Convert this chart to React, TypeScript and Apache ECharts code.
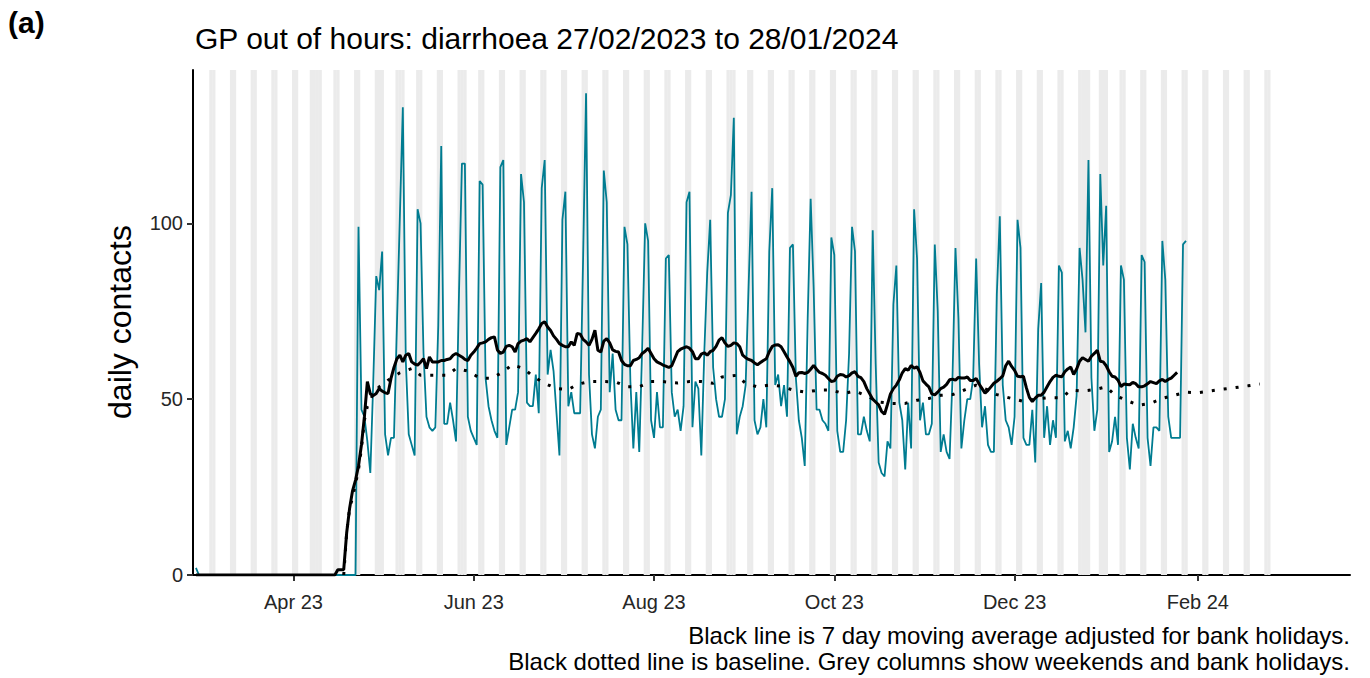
import React, { useEffect, useRef } from "react";
import * as echarts from "echarts";

const DAY = 86400000;
const FONT = "'Liberation Sans', Arial, Helvetica, sans-serif";

// Daily series start (Monday 27/02/2023); one value per day, rows are Mon..Sun weeks
const seriesStart = "2023-02-27";

const dailyContacts = [
  2, 0, 0, 0, 0, 0, 0,
  0, 0, 0, 0, 0, 0, 0,
  0, 0, 0, 0, 0, 0, 0,
  0, 0, 0, 0, 0, 0, 0,
  0, 0, 0, 0, 0, 0, 0,
  0, 0, 0, 0, 0, 0, 0,
  0, 0, 0, 0, 0, 0, 0,
  0, 0, 0, 0, 0, 0, 99,
  47, 45, 38, 29, 55, 85, 81,
  92, 40, 34, 39, 39, 71, 102,
  133, 61, 40, 37, 34, 104, 100,
  63, 45, 42, 41, 42, 71, 122,
  43, 43, 49, 44, 38, 80, 117,
  117, 45, 41, 39, 37, 112, 111,
  56, 48, 44, 41, 39, 116, 118,
  37, 42, 47, 47, 52, 114, 106,
  49, 48, 48, 57, 46, 110, 118,
  57, 64, 58, 46, 34, 101, 109,
  48, 52, 46, 46, 46, 90, 137,
  57, 40, 36, 45, 47, 115, 106,
  52, 63, 47, 44, 44, 99, 94,
  55, 36, 52, 35, 65, 100, 95,
  44, 39, 52, 42, 42, 90, 91,
  52, 45, 47, 41, 48, 106, 109,
  42, 55, 53, 34, 63, 86, 101,
  59, 50, 45, 45, 50, 103, 108,
  130, 40, 45, 48, 54, 82, 109,
  44, 40, 42, 50, 42, 92, 110,
  54, 57, 48, 54, 45, 93, 94,
  56, 44, 39, 31, 73, 107, 82,
  47, 47, 44, 43, 41, 96, 91,
  41, 35, 35, 44, 63, 99, 92,
  40, 40, 45, 41, 38, 98, 60,
  32, 29, 28, 38, 36, 77, 88,
  49, 44, 30, 49, 36, 104, 90,
  44, 49, 40, 40, 43, 94, 75,
  35, 40, 35, 33, 56, 93, 73,
  36, 44, 50, 50, 56, 90, 60,
  42, 48, 37, 35, 35, 80, 102,
  54, 44, 42, 37, 45, 101, 93,
  39, 37, 37, 47, 32, 70, 83,
  39, 48, 37, 44, 39, 88, 86,
  38, 41, 36, 42, 51, 93, 84,
  69, 118, 56, 41, 47, 114, 88,
  105, 35, 38, 45, 37, 88, 84,
  39, 30, 43, 39, 36, 91, 89,
  39, 31, 42, 42, 41, 95, 84,
  45, 39, 39, 39, 39, 94, 95,
];

// 7 day moving average (adjusted for bank holidays), same start date
const movingAverage = [
  0, 0, 0, 0, 0, 0, 0,
  0, 0, 0, 0, 0, 0, 0,
  0, 0, 0, 0, 0, 0, 0,
  0, 0, 0, 0, 0, 0, 0,
  0, 0, 0, 0, 0, 0, 0,
  0, 0, 0, 0, 0, 0, 0,
  0, 0, 0, 0, 0, 0, 1.5,
  1.5, 1.5, 12, 19, 24, 27, 31,
  37, 45, 55, 51.5, 51, 51.6, 53,
  52.3, 51.8, 51.6, 55.9, 59, 61.5, 62.5,
  60.6, 62.5, 63, 60.6, 60, 59.7, 60.5,
  61.5, 58.7, 62, 60.6, 60.6, 60.6, 61,
  61, 61.3, 61.5, 62.5, 63, 62.5, 62,
  61.3, 61, 62.5, 63.4, 64.5, 65.8, 66,
  66.3, 67, 67.5, 67.7, 64, 63, 63.4,
  65, 65.3, 64.9, 63.4, 65.8, 66.5, 66.8,
  67.2, 66.3, 67.5, 68.7, 70, 71.5, 72,
  70.5, 69.5, 68, 67, 65.8, 65.3, 64.9,
  64.9, 66.3, 65.3, 68.7, 68.5, 67, 66.3,
  65.3, 67, 69.6, 63.9, 63.4, 66.5, 67.2,
  66, 64, 63.6, 63.4, 61, 59.9, 59.5,
  59.5, 61, 61.3, 61.8, 63, 63.6, 64.5,
  63, 61.5, 60.6, 60.2, 59.7, 59.4, 59,
  59.5, 61.5, 63.5, 64.2, 64.6, 64.9, 64.5,
  63.5, 61.5, 61.5, 62.8, 63.2, 62.5, 63.5,
  63.9, 65, 66.8, 67.5, 66, 65, 65.3,
  66, 65.8, 64.9, 62.5, 61.8, 61.3, 61,
  60.3, 59.8, 60.4, 61, 61.5, 63.5, 65,
  65.4, 65.5, 64.9, 63.5, 62, 60.6, 59,
  56.5, 57.5, 57.6, 57.3, 57.6, 58.5, 59.6,
  58.5, 57.6, 57.3, 56.8, 55.9, 55, 55.2,
  56.5, 57, 56.9, 56.3, 56.7, 57.5, 57.8,
  56.5, 56.1, 55, 53, 51.5, 50, 49.2,
  48.4, 46.5, 45.7, 48.5, 51.5, 53, 54,
  55.5, 57.5, 58.7, 58.2, 59.6, 58.8, 59.2,
  57.6, 55.2, 54.3, 53.5, 51.5, 51.2, 52,
  53, 53.4, 54.2, 55.5, 55.7, 55.4, 56.2,
  56, 56, 56.3, 55.3, 55.3, 55.9, 54.3,
  53, 51.7, 52.5, 53.5, 54.5, 55.1, 55.8,
  56.6, 59.5, 60.8, 59.3, 58.2, 56.5, 56.4,
  56.5, 53.2, 50.5, 49.3, 50.3, 51.1, 51.1,
  52, 53.5, 55, 56.2, 56.8, 56.5, 56.4,
  57.8, 58.6, 59.1, 57, 58.6, 60.8, 61.8,
  61.3, 60.8, 62.2, 63, 63.9, 60.8, 60.6,
  59.5, 57.8, 56.5, 56.3, 55.4, 53.6, 54.3,
  54.2, 54.1, 54.8, 54.4, 53.5, 53.5, 53.8,
  54.4, 55, 54.7, 54.4, 55.2, 55.6, 55,
  55.6, 56, 56.8, 57.6,
];

// Baseline (dotted), read at roughly 4 day steps
const baselineDates = [
  "2023-04-18", "2023-04-19", "2023-04-20", "2023-04-21", "2023-04-22", "2023-04-23",
  "2023-04-24", "2023-04-25", "2023-04-26", "2023-04-28", "2023-04-30", "2023-05-03",
  "2023-05-07", "2023-05-11", "2023-05-14", "2023-05-19", "2023-05-23", "2023-05-26",
  "2023-05-30", "2023-06-03", "2023-06-07", "2023-06-11", "2023-06-14", "2023-06-18",
  "2023-06-21", "2023-06-25", "2023-06-29", "2023-07-03", "2023-07-06", "2023-07-10",
  "2023-07-15", "2023-07-19", "2023-07-23", "2023-07-27", "2023-07-31", "2023-08-04",
  "2023-08-09", "2023-08-13", "2023-08-17", "2023-08-21", "2023-08-24", "2023-08-29",
  "2023-09-01", "2023-09-05", "2023-09-09", "2023-09-13", "2023-09-17", "2023-09-21",
  "2023-09-26", "2023-09-30", "2023-10-04", "2023-10-08", "2023-10-12", "2023-10-16",
  "2023-10-20", "2023-10-25", "2023-10-29", "2023-11-02", "2023-11-06", "2023-11-10",
  "2023-11-14", "2023-11-18", "2023-11-22", "2023-11-25", "2023-11-30", "2023-12-04",
  "2023-12-08", "2023-12-12", "2023-12-17", "2023-12-20", "2023-12-24", "2023-12-28",
  "2024-01-01", "2024-01-04", "2024-01-08", "2024-01-12", "2024-01-16", "2024-01-20",
  "2024-01-24", "2024-01-28", "2024-02-01", "2024-02-05", "2024-02-09", "2024-02-13",
  "2024-02-18", "2024-02-22",
];
const baselineValues = [
  0, 12, 19, 22, 26, 30,
  36, 44, 48, 51.5, 53.5, 55.4,
  57.5, 58.7, 56.8, 56.8, 56.8, 58.7,
  58, 56, 55.9, 57.8, 59.8, 58.7,
  56.5, 54.5, 53, 52.7, 54.2, 55,
  55, 54.9, 53.5, 53.5, 55, 55,
  54.6, 55, 55, 54.5, 56.3, 56.8,
  54.5, 53.5, 54, 53.7, 52.6, 52,
  52.6, 52.6, 51.6, 52.3, 50.9, 49.2,
  48.8, 48.8, 49.7, 50.2, 51.1, 51.3,
  52.6, 54, 52.6, 51.3, 50.2, 49.4,
  50, 50.4, 50.4, 52.6, 52.3, 52.7,
  53.5, 51.1, 49.6, 48.3, 48.8, 50.2,
  51.1, 52, 51.8, 52.3, 52.8, 53.2,
  53.8, 54.3,
];

// Grey columns: weekends plus these bank holidays
const bankHolidays = [
  "2023-04-07", "2023-04-10", "2023-05-01", "2023-05-08", "2023-05-29",
  "2023-08-28", "2023-12-25", "2023-12-26", "2024-01-01",
];
const shadeStart = "2023-02-27";
const shadeEnd = "2024-02-25";

const xTickDates = ["2023-04-01", "2023-06-01", "2023-08-01", "2023-10-01", "2023-12-01", "2024-02-01"];
const xTickLabels = ["Apr 23", "Jun 23", "Aug 23", "Oct 23", "Dec 23", "Feb 24"];
const yTicks = [0, 50, 100];

const xMinDate = "2023-02-26";
const xMaxDate = "2024-03-23";
const Y_MAX = 143.6;

const titleText = "GP out of hours: diarrhoea 27/02/2023 to 28/01/2024";
const captionLines = [
  "Black line is 7 day moving average adjusted for bank holidays.",
  "Black dotted line is baseline. Grey columns show weekends and bank holidays.",
];

const toTs = (s: string) => {
  const [y, m, d] = s.split("-").map(Number);
  return Date.UTC(y, m - 1, d);
};

export default function App() {
  const ref = useRef<HTMLDivElement>(null);

  useEffect(() => {
    if (!ref.current) return;
    const chart = echarts.init(ref.current, undefined, { renderer: "svg" });

    const t0 = toTs(seriesStart);
    const tealData = dailyContacts.map((v, i) => [t0 + i * DAY, v]);
    const maData = movingAverage.map((v, i) => [t0 + i * DAY, v]);
    const baseData = baselineDates.map((d, i) => [toTs(d), baselineValues[i]]);

    const holidaySet = new Set(bankHolidays.map(toTs));
    const shadeDays: number[][] = [];
    for (let t = toTs(shadeStart); t <= toTs(shadeEnd); t += DAY) {
      const wd = new Date(t).getUTCDay();
      if (wd === 0 || wd === 6 || holidaySet.has(t)) shadeDays.push([t, Y_MAX]);
    }

    const xTickTs = xTickDates.map(toTs);

    chart.setOption({
      animation: false,
      grid: { left: 193, right: 20, top: 70, bottom: 103 },
      xAxis: {
        type: "value",
        min: toTs(xMinDate),
        max: toTs(xMaxDate) + DAY / 2,
        splitLine: { show: false },
        axisLine: { show: true, onZero: false, lineStyle: { color: "#000", width: 2 } },
        axisTick: {
          show: true,
          customValues: xTickTs,
          length: 6,
          lineStyle: { color: "#333", width: 2 },
        },
        axisLabel: {
          customValues: xTickTs,
          formatter: (v: number) => {
            const i = xTickTs.indexOf(v);
            return i >= 0 ? xTickLabels[i] : "";
          },
          fontSize: 20,
          color: "#262626",
          fontFamily: FONT,
          margin: 17,
        },
      },
      yAxis: {
        type: "value",
        min: 0,
        max: Y_MAX,
        splitLine: { show: false },
        axisLine: { show: true, onZero: false, lineStyle: { color: "#000", width: 2 } },
        axisTick: {
          show: true,
          customValues: yTicks,
          length: 6,
          lineStyle: { color: "#333", width: 2 },
        },
        axisLabel: {
          customValues: yTicks,
          fontSize: 20,
          color: "#262626",
          fontFamily: FONT,
          margin: 10,
        },
      },
      series: [
        {
          type: "custom",
          silent: true,
          clip: true,
          z: 1,
          encode: { x: 0, y: 1 },
          data: shadeDays,
          renderItem: (params: any, api: any) => {
            const t = api.value(0);
            const p0 = api.coord([t - DAY / 2, Y_MAX]);
            const p1 = api.coord([t + DAY / 2, 0]);
            return {
              type: "rect",
              shape: { x: p0[0], y: p0[1], width: p1[0] - p0[0] + 0.3, height: p1[1] - p0[1] },
              style: { fill: "#ebebeb" },
            };
          },
        },
        {
          type: "line",
          silent: true,
          z: 3,
          symbol: "none",
          showSymbol: false,
          data: tealData,
          lineStyle: { color: "#007C91", width: 1.8 },
        },
        {
          type: "line",
          silent: true,
          z: 4,
          symbol: "none",
          showSymbol: false,
          data: maData,
          lineStyle: { color: "#000", width: 3 },
        },
        {
          type: "line",
          silent: true,
          z: 5,
          symbol: "none",
          showSymbol: false,
          data: baseData,
          lineStyle: { color: "#000", width: 3, type: [3, 9] },
        },
      ],
      graphic: [
        {
          type: "text",
          x: 8,
          y: 22,
          style: { text: "(a)", font: `bold 30px ${FONT}`, fill: "#000", verticalAlign: "middle", align: "left" },
        },
        {
          type: "text",
          x: 195,
          y: 38,
          style: { text: titleText, font: `30px ${FONT}`, fill: "#000", verticalAlign: "middle", align: "left" },
        },
        {
          type: "text",
          x: 120,
          y: 322,
          rotation: Math.PI / 2,
          style: { text: "daily contacts", font: `32px ${FONT}`, fill: "#000", verticalAlign: "middle", align: "center" },
        },
        {
          type: "text",
          x: 1350,
          y: 635,
          style: { text: captionLines[0], font: `24px ${FONT}`, fill: "#000", verticalAlign: "middle", align: "right" },
        },
        {
          type: "text",
          x: 1350,
          y: 661,
          style: { text: captionLines[1], font: `24px ${FONT}`, fill: "#000", verticalAlign: "middle", align: "right" },
        },
      ],
    });

    return () => chart.dispose();
  }, []);

  return (
    <div
      ref={ref}
      style={{ position: "absolute", left: 0, top: 0, width: 1370, height: 678 }}
    />
  );
}
